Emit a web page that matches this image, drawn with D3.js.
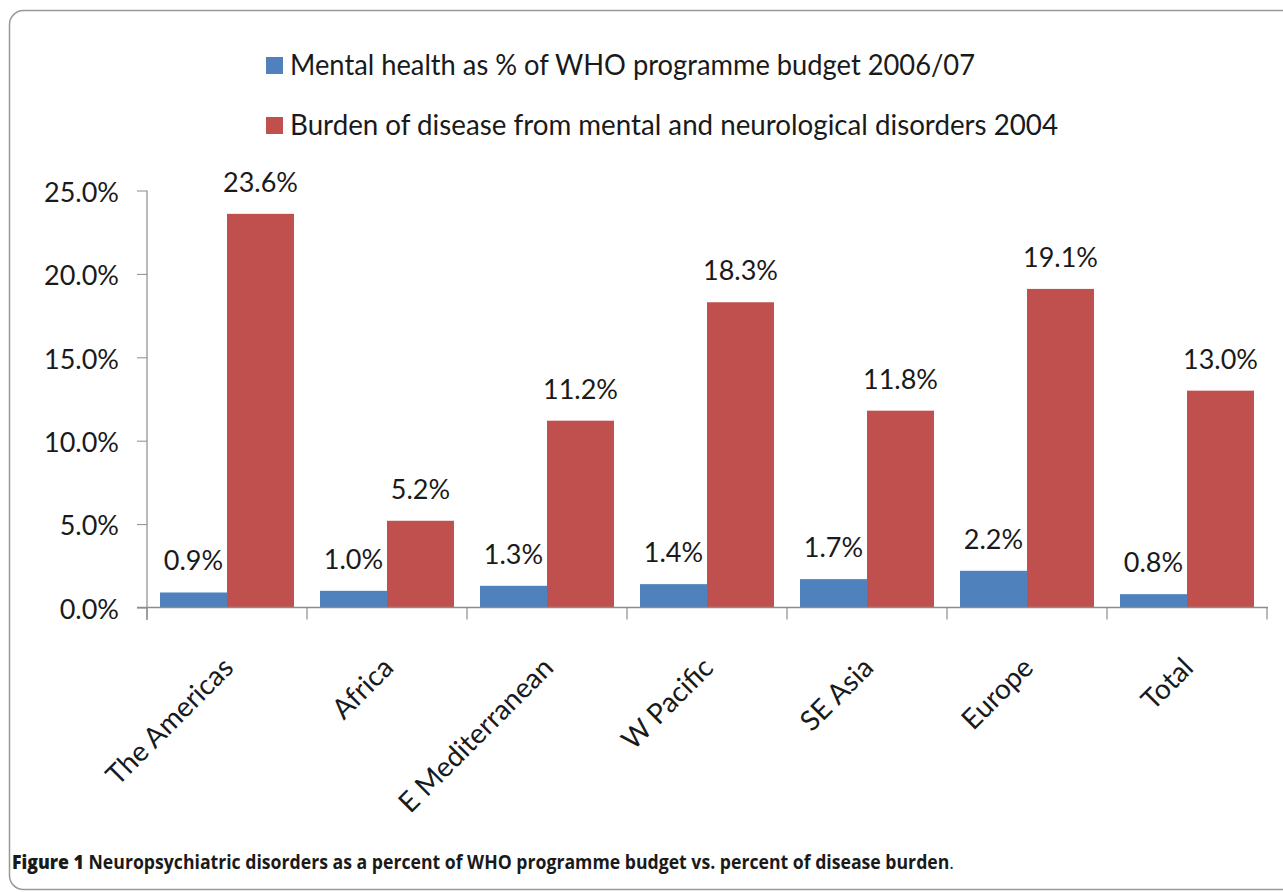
<!DOCTYPE html>
<html>
<head>
<meta charset="utf-8">
<style>
  body { margin: 0; background: #fff; }
  text { font-family: Lato, "Open Sans", sans-serif; fill: #1a1a1a; }
</style>
</head>
<body>
<svg id="chart"></svg>
<script src="https://cdn.jsdelivr.net/npm/d3@7"></script>
<script>
  // data
  const categories = ["The Americas", "Africa", "E Mediterranean", "W Pacific", "SE Asia", "Europe", "Total"];
  const seriesNames = [
    "Mental health as % of WHO programme budget 2006/07",
    "Burden of disease from mental and neurological disorders 2004"
  ];
  const budgetPct = [0.9, 1.0, 1.3, 1.4, 1.7, 2.2, 0.8];
  const burdenPct = [23.6, 5.2, 11.2, 18.3, 11.8, 19.1, 13.0];
  const yTicks = [0, 5, 10, 15, 20, 25];
  const colors = ["#4f81bd", "#c0504d"];

  const W = 1283, H = 892;
  let svg = d3.select("#chart").attr("width", W).attr("height", H);

  // outer frame
  svg.append("rect")
    .attr("x", 9.5).attr("y", 10.5)
    .attr("width", 1290).attr("height", 879)
    .attr("rx", 14)
    .attr("fill", "none").attr("stroke", "#999").attr("stroke-width", 1.5);

  let x = d3.scaleBand().domain(categories).range([147, 1267]);
  let xs = d3.scaleBand().domain([0, 1]).range([0, x.bandwidth()]).paddingOuter(0.194);
  let y = d3.scaleLinear().domain([0, 25]).range([607.5, 190.5]);

  let rows = categories.map((c, i) => ({ cat: c, vals: [budgetPct[i], burdenPct[i]] }));

  // y axis
  let yAxis = svg.append("g").attr("transform", "translate(147,0)")
    .call(d3.axisLeft(y).tickValues(yTicks).tickSize(10).tickPadding(18).tickFormat(d => d.toFixed(1) + "%"));
  yAxis.select(".domain").remove();
  yAxis.selectAll(".tick line").attr("stroke", "#8c8c8c");
  yAxis.selectAll(".tick text").attr("font-size", 27).attr("fill", "#1a1a1a").attr("dy", "0.4em");
  svg.append("line").attr("x1", 147).attr("x2", 147).attr("y1", y(25)).attr("y2", 620)
    .attr("stroke", "#8c8c8c").attr("stroke-width", 1.2);

  // bars
  let groups = svg.append("g").selectAll("g").data(rows).enter().append("g")
    .attr("transform", d => "translate(" + x(d.cat) + ",0)");

  groups.selectAll("rect").data(d => d.vals.map((v, k) => ({ v, k }))).enter().append("rect")
    .attr("x", d => xs(d.k))
    .attr("width", xs.bandwidth())
    .attr("y", d => y(d.v))
    .attr("height", d => y(0) - y(d.v))
    .attr("fill", d => colors[d.k]);

  groups.selectAll("text.val").data(d => d.vals.map((v, k) => ({ v, k }))).enter().append("text")
    .attr("class", "val")
    .attr("x", d => xs(d.k) + xs.bandwidth() / 2)
    .attr("y", d => y(d.v) - 22)
    .attr("text-anchor", "middle")
    .attr("font-size", 27)
    .text(d => d.v.toFixed(1) + "%");

  // x axis
  let xAxis = svg.append("g").attr("transform", "translate(0," + y(0) + ")");
  xAxis.append("line").attr("x1", 137).attr("x2", 1268).attr("y1", 0).attr("y2", 0)
    .attr("stroke", "#8c8c8c").attr("stroke-width", 1.5);
  xAxis.selectAll("line.tk").data(categories.concat(["end"])).enter().append("line")
    .attr("class", "tk")
    .attr("x1", (d, i) => 147 + i * x.step()).attr("x2", (d, i) => 147 + i * x.step())
    .attr("y1", 0).attr("y2", 12)
    .attr("stroke", "#8c8c8c").attr("stroke-width", 1.2);

  xAxis.selectAll("text").data(categories).enter().append("text")
    .attr("text-anchor", "end")
    .attr("font-size", 28)
    .attr("transform", d => "translate(" + (x(d) + x.bandwidth() / 2 + 8) + ",62) rotate(-45)")
    .text(d => d);

  // legend
  let legend = svg.append("g");
  seriesNames.forEach((s, i) => {
    legend.append("rect").attr("x", 266).attr("y", 57 + i * 60).attr("width", 17).attr("height", 17)
      .attr("fill", colors[i]);
    legend.append("text").attr("x", 290).attr("y", 75 + i * 60).attr("font-size", 28)
      .attr("textLength", i === 0 ? 685 : 768).attr("lengthAdjust", "spacingAndGlyphs")
      .text(s);
  });

  // caption, squeezed horizontally to the reference width
  let capG = svg.append("g");
  let cap = capG.append("text").attr("x", 0).attr("y", 0).attr("font-size", 19)
    .style("font-family", "'Open Sans', sans-serif");
  cap.append("tspan").attr("font-weight", 800).text("Figure 1 ");
  cap.append("tspan").attr("font-weight", 700).text("Neuropsychiatric disorders as a percent of WHO programme budget vs. percent of disease burden");
  cap.append("tspan").attr("font-weight", 400).text(".");
  let capLen = cap.node().getComputedTextLength();
  capG.attr("transform", "translate(12,869) scale(" + (943 / capLen) + ",1)");
</script>
</body>
</html>
